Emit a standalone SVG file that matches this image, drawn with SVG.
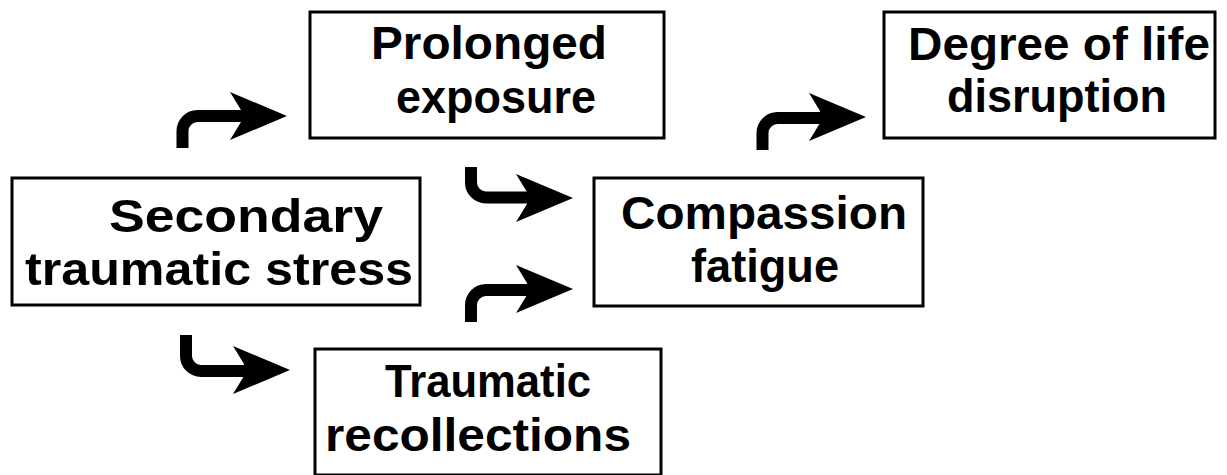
<svg xmlns="http://www.w3.org/2000/svg" xmlns:xlink="http://www.w3.org/1999/xlink" width="1227" height="475" viewBox="0 0 1227 475">
<style>
.box{fill:#fff;stroke:#000;stroke-width:3}
.t{font-family:"Liberation Sans",Arial,sans-serif;font-weight:bold;font-size:46px;fill:#000;text-anchor:middle}
.shaft{fill:none;stroke:#000;stroke-width:12}
</style>
<defs>
<path id="head" d="M-57,-24 L0,0 L-57,24 L-46,6 L-46,-6 Z" fill="#000"/>
</defs>
<rect width="1227" height="475" fill="#fff"/>
<g id="prolonged">
<rect class="box" x="310" y="12" width="354" height="126"/>
<text class="t" x="489" y="59" textLength="236" lengthAdjust="spacingAndGlyphs">Prolonged</text>
<text class="t" x="496" y="113" textLength="200" lengthAdjust="spacingAndGlyphs">exposure</text>
</g>
<g id="degree">
<rect class="box" x="884" y="12" width="331" height="126"/>
<text class="t" x="1059" y="60" textLength="302" lengthAdjust="spacingAndGlyphs">Degree of life</text>
<text class="t" x="1057" y="112" textLength="220" lengthAdjust="spacingAndGlyphs">disruption</text>
</g>
<g id="secondary">
<rect class="box" x="12" y="178" width="408" height="127"/>
<text class="t" x="246" y="232" textLength="274" lengthAdjust="spacingAndGlyphs">Secondary</text>
<text class="t" x="219" y="285" textLength="388" lengthAdjust="spacingAndGlyphs">traumatic stress</text>
</g>
<g id="compassion">
<rect class="box" x="594" y="178" width="329" height="128"/>
<text class="t" x="764" y="229" textLength="286" lengthAdjust="spacingAndGlyphs">Compassion</text>
<text class="t" x="765" y="282" textLength="148" lengthAdjust="spacingAndGlyphs">fatigue</text>
</g>
<g id="traumatic">
<rect class="box" x="315" y="349" width="346" height="126"/>
<text class="t" x="488" y="397" textLength="206" lengthAdjust="spacingAndGlyphs">Traumatic</text>
<text class="t" x="478" y="451" textLength="306" lengthAdjust="spacingAndGlyphs">recollections</text>
</g>
<g id="connectors">
<path class="shaft" d="M182.5,148 V131 A15,15 0 0 1 197.5,116 H242"/>
<use xlink:href="#head" transform="translate(287,116)"/>
<path class="shaft" d="M471,167 V182.5 A15,15 0 0 0 486,197.5 H528"/>
<use xlink:href="#head" transform="translate(573,198)"/>
<path class="shaft" d="M471,322 V305 A15,15 0 0 1 486,290 H528"/>
<use xlink:href="#head" transform="translate(573,289)"/>
<path class="shaft" d="M762.5,150 V133 A15,15 0 0 1 777.5,118 H820"/>
<use xlink:href="#head" transform="translate(866,117)"/>
<path class="shaft" d="M186,335 V356 A15,15 0 0 0 201,371 H244"/>
<use xlink:href="#head" transform="translate(290,370)"/>
</g>
</svg>
